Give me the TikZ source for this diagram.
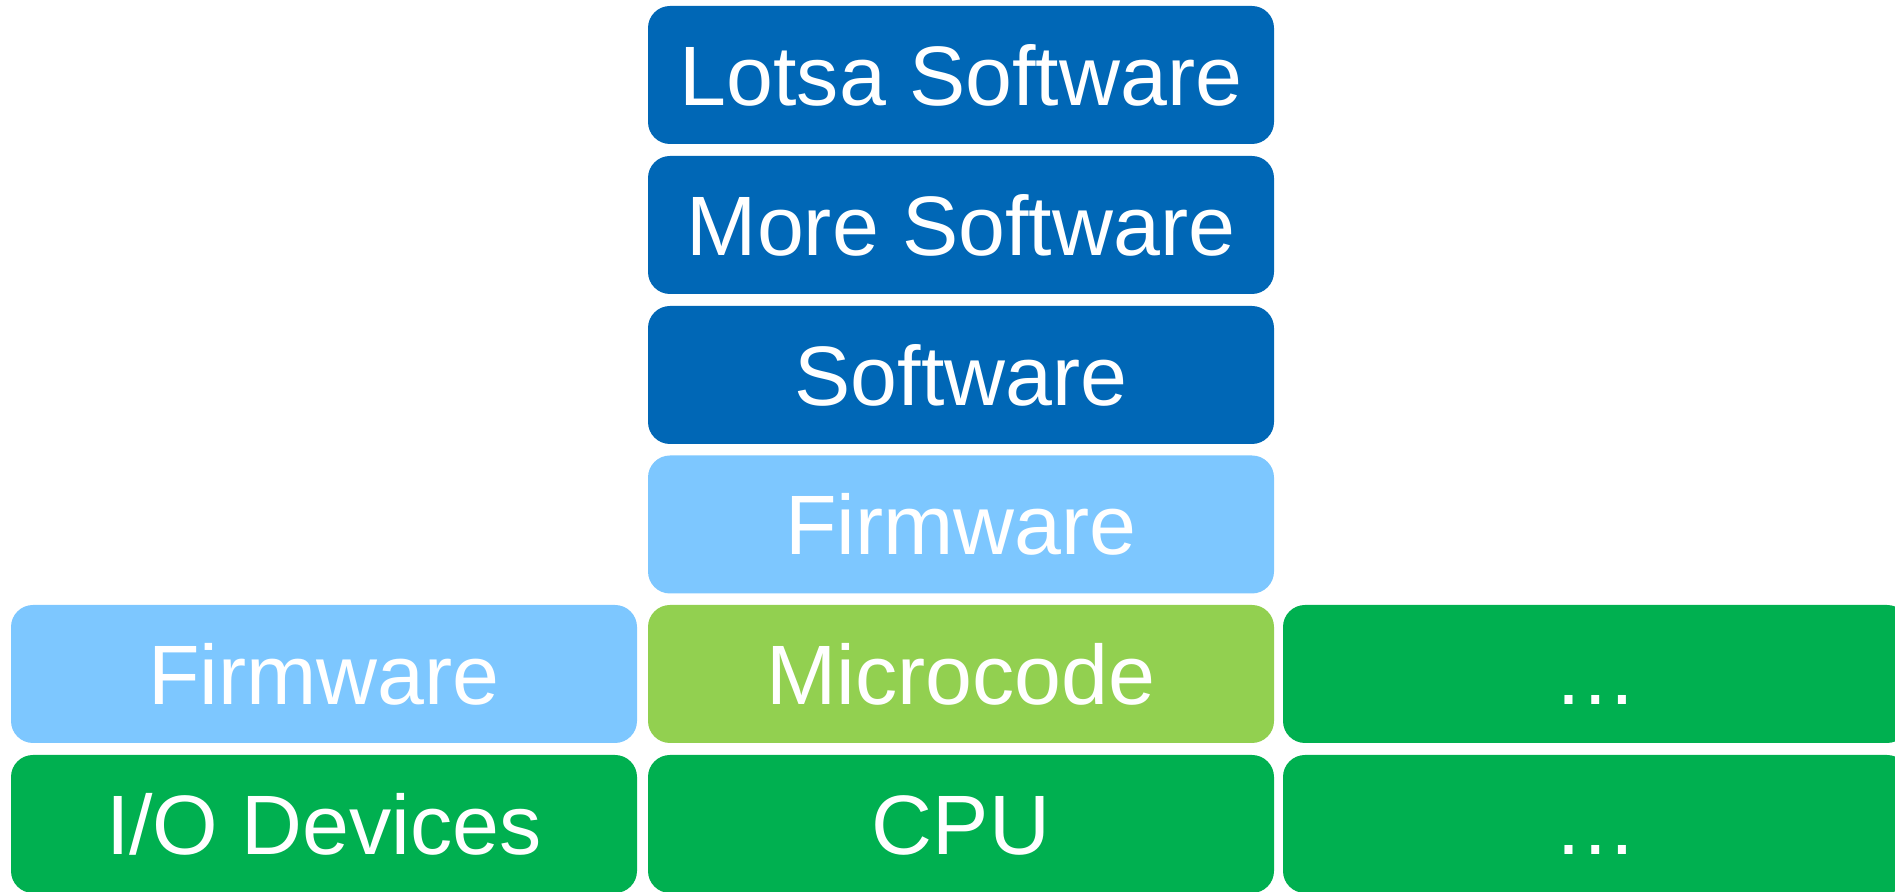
\documentclass[tikz,border=0pt]{standalone}
\usepackage{fontspec}
\setmainfont{Liberation Sans}
\definecolor{SoftBlue}{RGB}{0, 103, 182}
\definecolor{FirmBlue}{RGB}{125, 199, 255}
\definecolor{CodeGreen}{RGB}{146, 208, 80}
\definecolor{HardGreen}{RGB}{0, 176, 80}
\usetikzlibrary{positioning}

\begin{document}
\begin{tikzpicture}[
        layer/.style={rectangle, rounded corners=0.22cm, minimum width=6.26cm, minimum height=1.38cm,
            inner sep=0pt, text height=0.61cm, text depth=0pt, text=white, font=\fontsize{24}{28}\selectfont},
        soft/.style={layer, fill=SoftBlue},
        firm/.style={layer, fill=FirmBlue},
        micro/.style={layer, fill=CodeGreen},
        hard/.style={layer, fill=HardGreen}
    ]
        \useasboundingbox (0, 0) rectangle (18.95, 8.92);

        % Software stack
        \node[soft] (lotsa) at (9.61, 8.17) {Lotsa Software};
        \node[soft] (more) at (9.61, 6.67) {More Software};
        \node[soft] (sw) at (9.61, 5.17) {Software};
        \node[firm] (fwmid) at (9.61, 3.675) {Firmware};

        % Middle row
        \node[firm] (fwleft) at (3.24, 2.18) {Firmware};
        \node[micro] (mc) at (9.61, 2.18) {Microcode};
        \node[hard] (dotsup) at (15.96, 2.18) {…};

        % Hardware
        \node[hard] (io) at (3.24, 0.68) {I/O Devices};
        \node[hard] (cpu) at (9.61, 0.68) {CPU};
        \node[hard] (dotsdown) at (15.96, 0.68) {…};
    \end{tikzpicture}
\end{document}
